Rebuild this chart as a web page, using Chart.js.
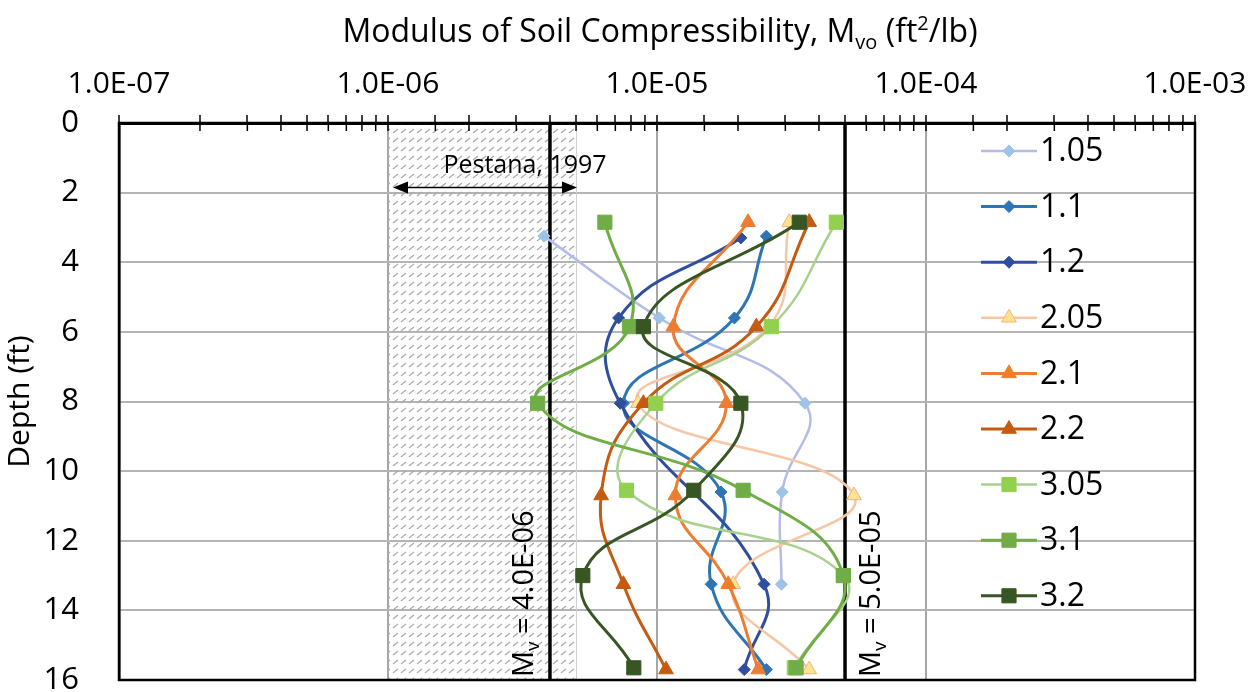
<!DOCTYPE html>
<html>
<head>
<meta charset="utf-8">
<script src="https://cdn.jsdelivr.net/npm/chart.js@4.4.1/dist/chart.umd.min.js"></script>
<style>
html, body { margin: 0; padding: 0; background: #fff; }
</style>
</head>
<body>
<canvas id="soil-chart" width="1256" height="692"></canvas>
<script>
////// Data: depth (ft) of each sample, one list per boring group
const depth1 = [3.25, 5.6, 8.05, 10.6, 13.25, 15.7];
const depth105 = [3.25, 5.6, 8.05, 10.6, 13.25];
const depth12 = [3.3, 5.6, 8.05, 13.25, 15.7];
const depth2 = [2.85, 5.85, 8.05, 10.7, 13.25, 15.7];
const depth3 = [2.85, 5.85, 8.05, 10.55, 13.0, 15.65];

// modulus of soil compressibility (ft2/lb)
const mv105 = [3.8e-6, 1.02e-5, 3.55e-5, 2.92e-5, 2.9e-5];
const mv11 = [2.55e-5, 1.94e-5, 7.5e-6, 1.73e-5, 1.59e-5, 2.55e-5];
const mv12 = [2.05e-5, 7.2e-6, 7.3e-6, 2.5e-5, 2.11e-5];
const mv205 = [3.1e-5, 2.6e-5, 8.5e-6, 5.4e-5, 1.92e-5, 3.68e-5];
const mv21 = [2.18e-5, 1.15e-5, 1.81e-5, 1.17e-5, 1.84e-5, 2.38e-5];
const mv22 = [3.68e-5, 2.34e-5, 8.9e-6, 6.2e-6, 7.5e-6, 1.08e-5];
const mv305 = [4.64e-5, 2.66e-5, 9.9e-6, 7.7e-6, 4.93e-5, 3.24e-5];
const mv31 = [6.4e-6, 7.9e-6, 3.6e-6, 2.09e-5, 4.93e-5, 3.29e-5];
const mv32 = [3.38e-5, 8.9e-6, 2.05e-5, 1.37e-5, 5.3e-6, 8.2e-6];

const seriesLabels = ['1.05', '1.1', '1.2', '2.05', '2.1', '2.2', '3.05', '3.1', '3.2'];
const seriesX = [mv105, mv11, mv12, mv205, mv21, mv22, mv305, mv31, mv32];
const seriesY = [depth105, depth1, depth12, depth2, depth2, depth2, depth3, depth3, depth3];

// reference lines and Pestana (1997) range
const refValues = [4.0e-6, 5.0e-5];
const refLabels = ['4.0E-06', '5.0E-05'];
const pestanaRange = [1.0e-6, 5.0e-6];
const pestanaLabel = 'Pestana, 1997';
const depthRange = [0, 16];

////// Styles
const FONT = "'Open Sans', 'DejaVu Sans', sans-serif";
const lineColors = ['#b3bce8', '#2e75b6', '#2f4f9e', '#f6c7a6', '#ed7d31', '#c55a11', '#a9d18e', '#70ad47', '#375623'];
const markColors = ['#9dc3e6', '#2e75b6', '#2f4f9e', '#ffe38f', '#ed7d31', '#c55a11', '#92d050', '#70ad47', '#375623'];
const markStyles = ['rectRot', 'rectRot', 'rectRot', 'triangle', 'triangle', 'triangle', 'rect', 'rect', 'rect'];
const markSizes = [6, 6, 6, 8.5, 8.5, 8.5, 10, 10, 10];
const lineWidths = [2.5, 3, 3, 2.5, 3, 3, 2.5, 3, 3];

function sciLabel(v) {
    let e = Math.round(Math.log10(v));
    return '1.0E' + (e < 0 ? '-' : '+') + String(Math.abs(e)).padStart(2, '0');
}
function isDecade(v) {
    let l = Math.log10(v);
    return Math.abs(l - Math.round(l)) < 1e-6;
}

let datasets = seriesLabels.map(function (label, i) {
    return {
        label: label,
        data: seriesX[i].map((v, k) => ({ x: v, y: seriesY[i][k] })),
        showLine: true,
        tension: 0.45,
        borderColor: lineColors[i],
        borderWidth: lineWidths[i],
        pointStyle: markStyles[i],
        pointRadius: markSizes[i],
        pointBackgroundColor: markColors[i],
        pointBorderColor: i === 3 ? '#f4b183' : markColors[i],
        pointBorderWidth: 1,
        order: seriesLabels.length - i
    };
});
refValues.forEach(function (v) {
    datasets.push({
        label: '',
        data: depthRange.map(d => ({ x: v, y: d })),
        showLine: true,
        borderColor: '#000',
        borderWidth: 3.5,
        pointRadius: 0,
        order: 100
    });
});

// small helper for text with sub/superscripts: parts = [[text, 0|1(sub)|2(sup)]]
function richText(ctx, parts, x, y, size, align) {
    let fonts = parts.map(p => (p[1] ? Math.round(size * 0.64) : size) + 'px ' + FONT);
    let widths = parts.map((p, i) => { ctx.font = fonts[i]; return ctx.measureText(p[0]).width; });
    let total = widths.reduce((a, b) => a + b, 0);
    let cx = align === 'center' ? x - total / 2 : x;
    ctx.textAlign = 'left';
    ctx.textBaseline = 'alphabetic';
    parts.forEach(function (p, i) {
        ctx.font = fonts[i];
        let dy = p[1] === 1 ? size * 0.22 : (p[1] === 2 ? -size * 0.38 : 0);
        ctx.fillText(p[0], cx, y + dy);
        cx += widths[i];
    });
}

// hatch pattern for the Pestana band
let pc = document.createElement('canvas');
pc.width = 8; pc.height = 9;
let pctx = pc.getContext('2d');
pctx.strokeStyle = '#a9a9a9';
pctx.lineWidth = 1.3;
pctx.beginPath(); pctx.moveTo(1, 7); pctx.lineTo(6, 3); pctx.stroke();

const extrasPlugin = {
    id: 'extras',
    beforeDatasetsDraw(chart) {
        let ctx = chart.ctx, a = chart.chartArea, xs = chart.scales.x;
        let x0 = xs.getPixelForValue(pestanaRange[0]), x1 = xs.getPixelForValue(pestanaRange[1]);
        ctx.save();
        ctx.fillStyle = ctx.createPattern(pc, 'repeat');
        ctx.fillRect(x0 + 1, a.top, x1 - x0 - 1, a.bottom - a.top);
        ctx.strokeStyle = '#d0d0d0';
        ctx.lineWidth = 1;
        ctx.beginPath(); ctx.moveTo(x1 + 0.5, a.top); ctx.lineTo(x1 + 0.5, a.bottom); ctx.stroke();
        ctx.restore();
    },
    afterDraw(chart) {
        let ctx = chart.ctx, a = chart.chartArea, xs = chart.scales.x, ys = chart.scales.y;
        ctx.save();
        // title
        ctx.fillStyle = '#000';
        richText(ctx, [['Modulus of Soil Compressibility, M', 0], ['vo', 1], [' (ft', 0], ['2', 2], ['/lb)', 0]],
            660, 42, 32, 'center');

        // plot frame
        ctx.strokeStyle = '#000';
        ctx.lineWidth = 2.5;
        ctx.strokeRect(a.left, a.top, a.right - a.left, a.bottom - a.top);

        // tick marks crossing the top axis
        ctx.lineWidth = 1.5;
        xs.ticks.forEach(function (t) {
            let px = xs.getPixelForValue(t.value);
            ctx.beginPath(); ctx.moveTo(px, a.top); ctx.lineTo(px, a.top + 8); ctx.stroke();
        });

        // Pestana arrow
        let x0 = xs.getPixelForValue(pestanaRange[0]) + 5, x1 = xs.getPixelForValue(pestanaRange[1]) + 1;
        let ay = ys.getPixelForValue(1.85);
        ctx.lineWidth = 1.5;
        ctx.beginPath(); ctx.moveTo(x0 + 10, ay); ctx.lineTo(x1 - 10, ay); ctx.stroke();
        ctx.fillStyle = '#000';
        ctx.beginPath(); ctx.moveTo(x0, ay); ctx.lineTo(x0 + 15, ay - 6); ctx.lineTo(x0 + 15, ay + 6); ctx.closePath(); ctx.fill();
        ctx.beginPath(); ctx.moveTo(x1, ay); ctx.lineTo(x1 - 15, ay - 6); ctx.lineTo(x1 - 15, ay + 6); ctx.closePath(); ctx.fill();
        ctx.font = '25px ' + FONT;
        ctx.textAlign = 'center';
        ctx.textBaseline = 'alphabetic';
        ctx.fillText(pestanaLabel, (x0 + x1) / 2 + 40, ay - 14);

        // rotated reference line labels
        refValues.forEach(function (v, i) {
            let px = xs.getPixelForValue(v) + (i === 0 ? -27 : 25);
            ctx.save();
            ctx.translate(px + 10, a.bottom - 3);
            ctx.rotate(-Math.PI / 2);
            ctx.fillStyle = '#000';
            richText(ctx, [['M', 0], ['v', 1], [' = ' + refLabels[i], 0]], 0, 0, 29, 'left');
            ctx.restore();
        });

        // legend inside the plot area
        let lx = a.right - 214, ly = a.top + 28, step = 55.6;
        chart.data.datasets.forEach(function (ds, i) {
            if (!ds.label) return;
            let y = ly + i * step;
            ctx.strokeStyle = ds.borderColor;
            ctx.lineWidth = ds.borderWidth;
            ctx.beginPath(); ctx.moveTo(lx, y); ctx.lineTo(lx + 56, y); ctx.stroke();
            ctx.fillStyle = ds.pointBackgroundColor;
            ctx.strokeStyle = ds.pointBorderColor;
            ctx.lineWidth = 1;
            Chart.helpers.drawPoint(ctx, { pointStyle: ds.pointStyle, radius: ds.pointRadius, rotation: 0, borderWidth: 1 }, lx + 28, y);
            ctx.fillStyle = '#000';
            ctx.font = '32px ' + FONT;
            ctx.textAlign = 'left';
            ctx.textBaseline = 'middle';
            ctx.fillText(ds.label, lx + 59, y + 1);
        });
        ctx.restore();
    }
};

let chart_canvas = document.getElementById('soil-chart').getContext('2d');
let soil_chart = new Chart(chart_canvas, {
    type: 'scatter',
    data: { datasets: datasets },
    options: {
        responsive: false,
        animation: false,
        layout: { padding: { top: 46, right: 61, bottom: 12, left: 0 } },
        plugins: {
            legend: { display: false },
            tooltip: { enabled: false }
        },
        scales: {
            x: {
                type: 'logarithmic',
                position: 'top',
                min: 1e-7,
                max: 1e-3,
                afterFit: function (scale) {
                    scale.height = 77;
                    scale.paddingLeft = 0;
                    scale.paddingRight = 0;
                },
                border: { color: '#000', width: 3 },
                grid: {
                    color: ctx => (ctx.tick && isDecade(ctx.tick.value)) ? '#a6a6a6' : 'rgba(0,0,0,0)',
                    lineWidth: 2,
                    tickColor: '#000',
                    tickLength: 8,
                    tickWidth: 1.5
                },
                ticks: {
                    autoSkip: false,
                    maxRotation: 0,
                    padding: 13,
                    color: '#000',
                    font: { family: FONT, size: 30 },
                    callback: v => isDecade(v) ? sciLabel(v) : ''
                }
            },
            y: {
                type: 'linear',
                reverse: true,
                min: depthRange[0],
                max: depthRange[1],
                afterFit: function (scale) {
                    scale.width = 119;
                    scale.paddingTop = 0;
                    scale.paddingBottom = 0;
                },
                border: { color: '#000', width: 2.5 },
                grid: { color: '#b4b4b4', lineWidth: 2, drawTicks: false },
                ticks: {
                    stepSize: 2,
                    padding: 40,
                    color: '#000',
                    font: { family: FONT, size: 31 }
                },
                title: {
                    display: true,
                    text: 'Depth (ft)',
                    color: '#000',
                    font: { family: FONT, size: 30 },
                    padding: { top: 2, bottom: 0 }
                }
            }
        }
    },
    plugins: [extrasPlugin]
});
</script>
</body>
</html>
